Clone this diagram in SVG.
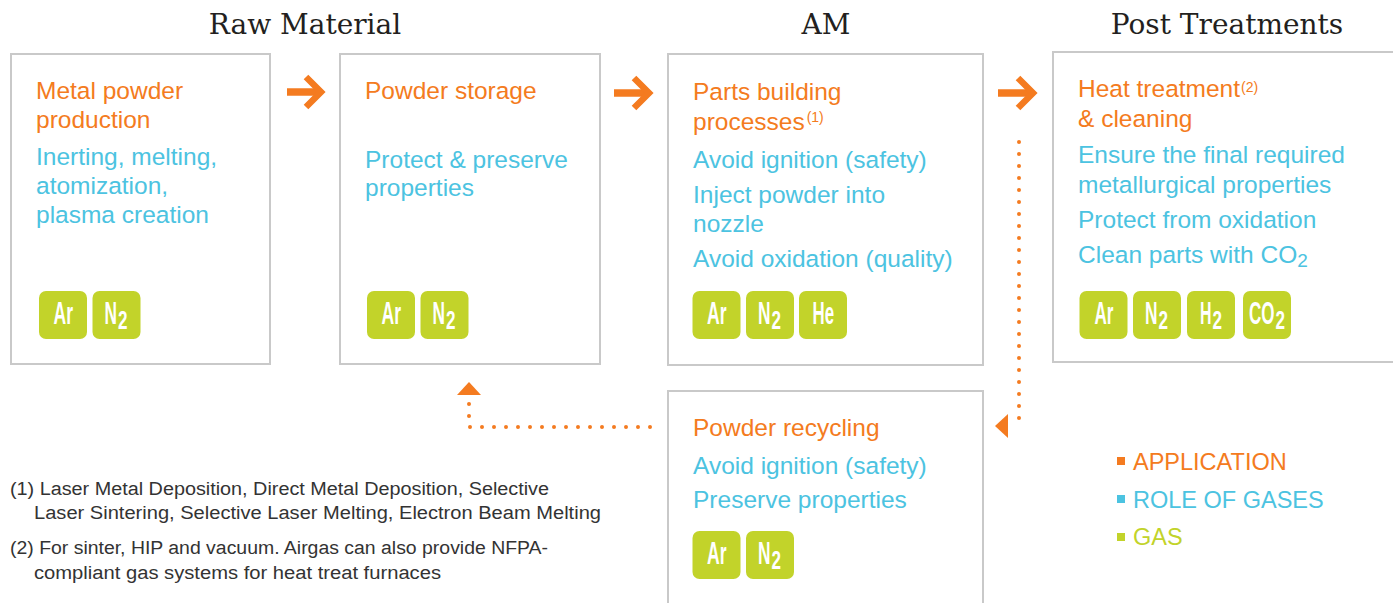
<svg xmlns="http://www.w3.org/2000/svg" width="1393" height="603" viewBox="0 0 1393 603">
<style>
.bg{fill:#ffffff}
.box{fill:#ffffff;stroke:#c9c9c9;stroke-width:2}
.title{font-family:"DejaVu Serif","Liberation Serif",serif;font-size:28px;fill:#231f20;text-anchor:middle}
.app{font-family:"Liberation Sans",Arial,sans-serif;font-size:24.5px;fill:#f47b20}
.role{font-family:"Liberation Sans",Arial,sans-serif;font-size:24.5px;fill:#4cc3e1}
.sup{font-size:14px}
.badge{fill:#c2d32a}
.gas{font-family:"Liberation Sans Narrow","Liberation Sans",Arial,sans-serif;font-weight:bold;font-size:21px;fill:#ffffff}
.sub{font-family:"Liberation Sans Narrow","Liberation Sans",Arial,sans-serif;font-weight:bold;font-size:17.5px;fill:#ffffff}
.note{font-family:"Liberation Sans",Arial,sans-serif;font-size:18px;fill:#333333}
.leg{font-family:"Liberation Sans",Arial,sans-serif;font-size:23.5px}
.arrowbar{stroke:#f47b20;stroke-width:7.5;fill:none}
.arrowhead{stroke:#f47b20;stroke-width:6.5;fill:none;stroke-linejoin:miter}
.dots{stroke:#f47b20;stroke-width:4;fill:none;stroke-linecap:round;stroke-dasharray:0 12}
.tri{fill:#f47b20}
</style>
<rect class="bg" x="0" y="0" width="1393" height="603"/>

<g id="titles">
<text class="title" x="305" y="34">Raw Material</text>
<text class="title" x="826" y="34">AM</text>
<text class="title" x="1227" y="34">Post Treatments</text>
</g>

<g id="connectors">
<path class="arrowbar" d="M287,92 H320"/>
<path class="arrowhead" d="M306,77 L321,92 L306,107"/>
<path class="arrowbar" d="M614,93 H648"/>
<path class="arrowhead" d="M634,78 L649,93 L634,108"/>
<path class="arrowbar" d="M998,93 H1032"/>
<path class="arrowhead" d="M1018,78 L1033,93 L1018,108"/>
<path class="dots" d="M1019,142 V426"/>
<polygon class="tri" points="995,426 1008,414 1008,438"/>
<path class="dots" d="M650,427 H469 V403"/>
<polygon class="tri" points="469,382 457,395 481,395"/>
</g>

<g id="node-metal-powder">
<rect class="box" x="11" y="54" width="259" height="310"/>
<text class="app" x="36" y="99">Metal powder</text>
<text class="app" x="36" y="128">production</text>
<text class="role" x="36" y="165">Inerting, melting,</text>
<text class="role" x="36" y="194">atomization,</text>
<text class="role" x="36" y="223">plasma creation</text>
<rect class="badge" x="39" y="291" width="48" height="48" rx="7"/>
<text class="gas" x="53.5" y="324" transform="matrix(1,0,0,1.5,0,-162)" textLength="19.5" lengthAdjust="spacingAndGlyphs">Ar</text>
<rect class="badge" x="92.5" y="291" width="48" height="48" rx="7"/>
<text class="gas" x="104.5" y="324" transform="matrix(1,0,0,1.5,0,-162)" textLength="12.5" lengthAdjust="spacingAndGlyphs">N</text>
<text class="sub" x="118" y="329" transform="matrix(1,0,0,1.5,0,-164.5)" textLength="9.5" lengthAdjust="spacingAndGlyphs">2</text>
</g>

<g id="node-powder-storage">
<rect class="box" x="340" y="54" width="260" height="310"/>
<text class="app" x="365" y="99">Powder storage</text>
<text class="role" x="365" y="168">Protect &amp; preserve</text>
<text class="role" x="365" y="196">properties</text>
<rect class="badge" x="367" y="291" width="48" height="48" rx="7"/>
<text class="gas" x="381.5" y="324" transform="matrix(1,0,0,1.5,0,-162)" textLength="19.5" lengthAdjust="spacingAndGlyphs">Ar</text>
<rect class="badge" x="420.5" y="291" width="48" height="48" rx="7"/>
<text class="gas" x="432.5" y="324" transform="matrix(1,0,0,1.5,0,-162)" textLength="12.5" lengthAdjust="spacingAndGlyphs">N</text>
<text class="sub" x="446" y="329" transform="matrix(1,0,0,1.5,0,-164.5)" textLength="9.5" lengthAdjust="spacingAndGlyphs">2</text>
</g>

<g id="node-parts-building">
<rect class="box" x="668" y="54" width="315" height="311"/>
<text class="app" x="693" y="100">Parts building</text>
<text class="app" x="693" y="130">processes<tspan class="sup" dx="2" dy="-8">(1)</tspan></text>
<text class="role" x="693" y="168">Avoid ignition (safety)</text>
<text class="role" x="693" y="203">Inject powder into</text>
<text class="role" x="693" y="232">nozzle</text>
<text class="role" x="693" y="267">Avoid oxidation (quality)</text>
<rect class="badge" x="692.5" y="291" width="48" height="48" rx="7"/>
<text class="gas" x="707" y="324" transform="matrix(1,0,0,1.5,0,-162)" textLength="19.5" lengthAdjust="spacingAndGlyphs">Ar</text>
<rect class="badge" x="746" y="291" width="48" height="48" rx="7"/>
<text class="gas" x="758" y="324" transform="matrix(1,0,0,1.5,0,-162)" textLength="12.5" lengthAdjust="spacingAndGlyphs">N</text>
<text class="sub" x="771.5" y="329" transform="matrix(1,0,0,1.5,0,-164.5)" textLength="9.5" lengthAdjust="spacingAndGlyphs">2</text>
<rect class="badge" x="799" y="291" width="48" height="48" rx="7"/>
<text class="gas" x="812.5" y="324" transform="matrix(1,0,0,1.5,0,-162)" textLength="21.5" lengthAdjust="spacingAndGlyphs">He</text>
</g>

<g id="node-heat-treatment">
<rect class="box" x="1053" y="52" width="350" height="310"/>
<text class="app" x="1078" y="97">Heat treatment<tspan class="sup" dx="1" dy="-5">(2)</tspan></text>
<text class="app" x="1078" y="127">&amp; cleaning</text>
<text class="role" x="1078" y="163">Ensure the final required</text>
<text class="role" x="1078" y="193">metallurgical properties</text>
<text class="role" x="1078" y="228">Protect from oxidation</text>
<text class="role" x="1078" y="263">Clean parts with CO<tspan font-size="19" dy="4">2</tspan></text>
<rect class="badge" x="1079.5" y="291" width="48" height="48" rx="7"/>
<text class="gas" x="1094.5" y="324" transform="matrix(1,0,0,1.5,0,-162)" textLength="19" lengthAdjust="spacingAndGlyphs">Ar</text>
<rect class="badge" x="1133" y="291" width="48" height="48" rx="7"/>
<text class="gas" x="1145" y="324" transform="matrix(1,0,0,1.5,0,-162)" textLength="12.5" lengthAdjust="spacingAndGlyphs">N</text>
<text class="sub" x="1158.5" y="329" transform="matrix(1,0,0,1.5,0,-164.5)" textLength="9.5" lengthAdjust="spacingAndGlyphs">2</text>
<rect class="badge" x="1187" y="291" width="48" height="48" rx="7"/>
<text class="gas" x="1200" y="324" transform="matrix(1,0,0,1.5,0,-162)" textLength="11.5" lengthAdjust="spacingAndGlyphs">H</text>
<text class="sub" x="1212.5" y="329" transform="matrix(1,0,0,1.5,0,-164.5)" textLength="9.5" lengthAdjust="spacingAndGlyphs">2</text>
<rect class="badge" x="1243" y="291" width="48" height="48" rx="7"/>
<text class="gas" x="1249" y="324" transform="matrix(1,0,0,1.5,0,-162)" textLength="25.5" lengthAdjust="spacingAndGlyphs">CO</text>
<text class="sub" x="1275.5" y="329" transform="matrix(1,0,0,1.5,0,-164.5)" textLength="9.5" lengthAdjust="spacingAndGlyphs">2</text>
</g>

<g id="node-powder-recycling">
<rect class="box" x="668" y="391" width="315" height="230"/>
<text class="app" x="693" y="436">Powder recycling</text>
<text class="role" x="693" y="474">Avoid ignition (safety)</text>
<text class="role" x="693" y="508">Preserve properties</text>
<rect class="badge" x="692.5" y="531" width="48" height="48" rx="7"/>
<text class="gas" x="707" y="564" transform="matrix(1,0,0,1.5,0,-282)" textLength="19.5" lengthAdjust="spacingAndGlyphs">Ar</text>
<rect class="badge" x="746" y="531" width="48" height="48" rx="7"/>
<text class="gas" x="758" y="564" transform="matrix(1,0,0,1.5,0,-282)" textLength="12.5" lengthAdjust="spacingAndGlyphs">N</text>
<text class="sub" x="771.5" y="569" transform="matrix(1,0,0,1.5,0,-284.5)" textLength="9.5" lengthAdjust="spacingAndGlyphs">2</text>
</g>

<g id="footnotes">
<text class="note" x="10" y="495" textLength="539" lengthAdjust="spacingAndGlyphs">(1) Laser Metal Deposition, Direct Metal Deposition, Selective</text>
<text class="note" x="34" y="519" textLength="567" lengthAdjust="spacingAndGlyphs">Laser Sintering, Selective Laser Melting,  Electron Beam Melting</text>
<text class="note" x="10" y="554" textLength="538" lengthAdjust="spacingAndGlyphs">(2) For sinter, HIP and vacuum. Airgas can also provide NFPA-</text>
<text class="note" x="34" y="579" textLength="407" lengthAdjust="spacingAndGlyphs">compliant gas systems for heat treat furnaces</text>
</g>

<g id="legend">
<rect x="1117" y="457" width="8" height="8" fill="#f47b20"/>
<text class="leg" x="1133" y="470" fill="#f47b20">APPLICATION</text>
<rect x="1117" y="495" width="8" height="8" fill="#4cc3e1"/>
<text class="leg" x="1133" y="508" fill="#4cc3e1">ROLE OF GASES</text>
<rect x="1117" y="533" width="8" height="8" fill="#c2d32a"/>
<text class="leg" x="1133" y="545" fill="#c2d32a">GAS</text>
</g>
</svg>
